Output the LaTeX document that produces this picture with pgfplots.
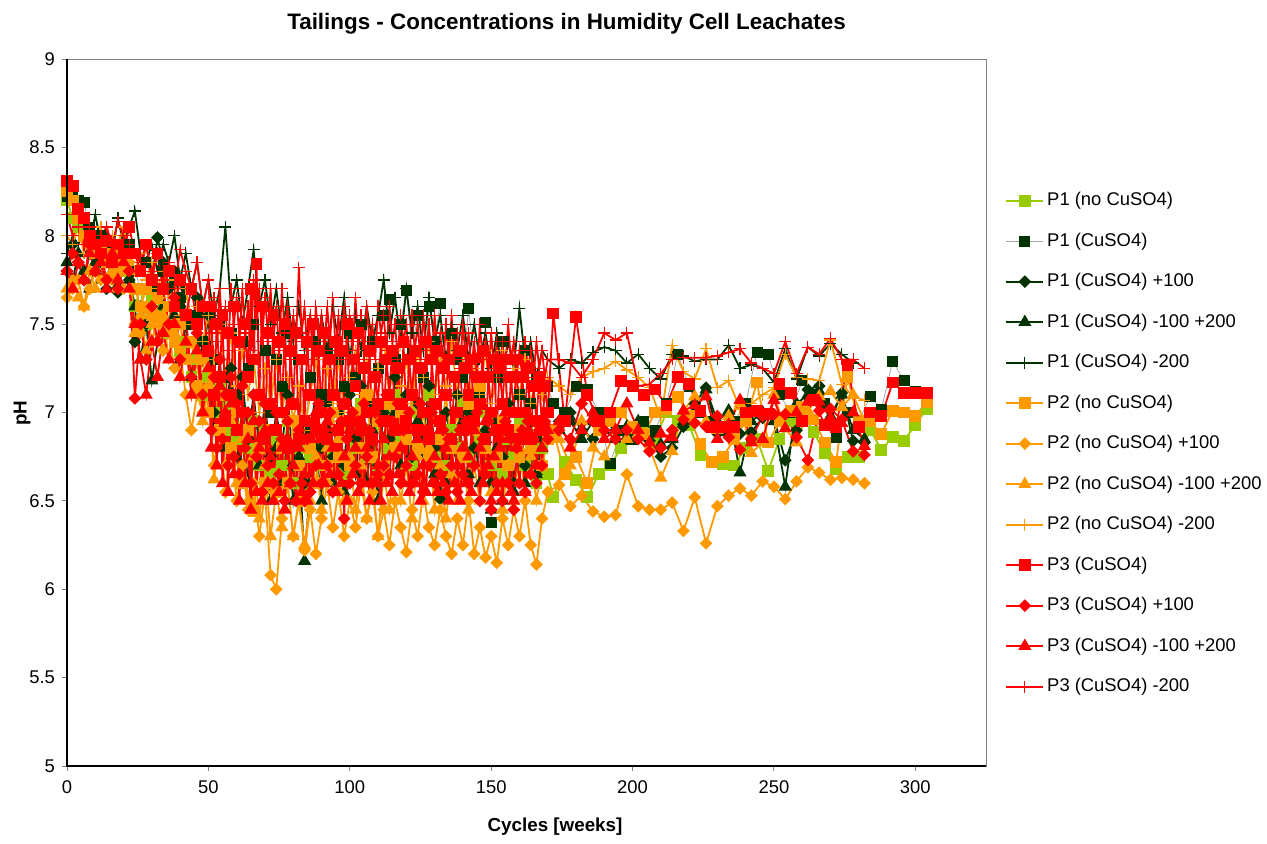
\documentclass[border=0pt]{standalone}
\usepackage{fontspec}
\setmainfont{Liberation Sans}
\usepackage{pgfplots}
\pgfplotsset{compat=1.18}
\definecolor{lgreen}{RGB}{153,204,0}
\definecolor{dgreen}{RGB}{0,51,0}
\definecolor{orng}{RGB}{255,153,0}
\definecolor{rd}{RGB}{255,0,0}
\pgfplotsset{
 sq/.style={color=#1, line width=0.9pt, mark=square*, mark size=2.5pt, mark options={solid, fill=#1, draw=#1}},
 dm/.style={color=#1, line width=0.9pt, mark=square*, mark size=1.8pt, mark options={solid, rotate=45, fill=#1, draw=#1}},
 tr/.style={color=#1, line width=0.9pt, mark=triangle*, mark size=2.9pt, mark options={solid, fill=#1, draw=#1}},
 pl/.style={color=#1, line width=0.9pt, mark=+, mark size=3pt, mark options={solid, line width=0.6pt, draw=#1}},
}
\begin{document}
\begin{tikzpicture}
\begin{axis}[
 scale only axis, width=459.5pt, height=353.5pt,
 xmin=0, xmax=325, ymin=5, ymax=9,
 xtick={0,50,...,300}, ytick={5,5.5,...,9},
 tick align=outside, tick pos=left,
 major tick length=2.5pt,
 every tick/.style={gray, line width=0.5pt},
 axis line style={gray, line width=0.5pt},
 tick label style={font=\fontsize{9.2}{11}\selectfont},
 xticklabel style={yshift=-1.5pt},
 /pgf/number format/assume math mode=true,
 legend style={draw=none, fill=none, at={(1.0207,0.813)}, anchor=north west, inner sep=0pt, row sep=11.25pt,
   nodes={inner sep=0pt, text height=7pt, text depth=2pt, font=\fontsize{9.2}{11}\selectfont, anchor=west},
   /tikz/every odd column/.append style={column sep=1.5pt}},
 legend cell align=left,
 legend image code/.code={\draw[mark repeat=2,mark phase=2] plot coordinates {(0cm,0cm) (0.325cm,0cm) (0.65cm,0cm)};},
]
% P1 (no CuSO4)
\addplot[sq=lgreen] coordinates {(0,8.2)(2,8.1)(4,8.05)(6,8.0)(8,7.95)(10,7.9)(12,7.95)(14,7.85)(16,7.9)(18,7.85)(20,7.9)(22,7.8)(24,7.6)(26,7.7)(28,7.5)(30,7.65)(32,7.55)(34,7.6)(36,7.45)(38,7.5)(40,7.35)(42,7.4)(44,7.2)(46,7.3)(48,7.1)(50,7.2)(52,7.0)(54,7.15)(56,6.9)(58,7.05)(60,6.85)(62,7.0)(64,6.8)(66,6.95)(68,6.7)(70,6.9)(72,6.65)(74,6.85)(76,6.7)(78,6.95)(80,6.6)(82,6.8)(84,6.55)(86,6.75)(88,6.9)(90,6.7)(92,7.0)(94,6.75)(96,6.9)(98,6.65)(100,6.95)(102,6.8)(104,7.05)(106,6.75)(108,6.9)(110,6.7)(112,7.0)(114,6.8)(116,7.1)(118,6.85)(120,6.95)(122,6.7)(124,7.0)(126,6.85)(128,7.1)(130,6.75)(132,6.95)(134,6.7)(136,6.9)(138,6.8)(140,7.05)(142,6.75)(144,6.95)(146,6.85)(148,7.0)(150,6.7)(152,6.9)(154,6.65)(156,6.85)(158,6.75)(160,6.95)(162,6.7)(164,6.85)(166,6.6)(168,6.8)(170,6.65)
(172,6.52)(176,6.72)(180,6.62)(184,6.52)(188,6.65)(192,6.70)(196,6.80)(200,6.85)(204,6.90)(208,6.85)(212,7.00)(216,6.95)(220,6.93)(224,6.76)(228,6.72)(232,6.71)(236,6.70)(240,6.80)(244,6.85)(248,6.67)(252,6.85)(256,6.95)(260,7.0)(264,6.89)(268,6.77)(272,6.68)(276,6.75)(280,6.75)(284,6.90)(288,6.79)(292,6.86)(296,6.84)(300,6.93)(304,7.02)};
\addlegendentry{P1 (no CuSO4)}
% P1 (CuSO4)
\addplot[color=gray!70, line width=0.4pt, mark=square*, mark size=2.5pt, mark options={solid, fill=dgreen, draw=dgreen}] coordinates {(0,8.22)(2,8.25)(4,8.2)(6,8.19)(8,8.05)(10,7.95)(12,8.0)(14,7.9)(16,7.95)(18,7.85)(20,7.9)(22,7.95)(24,7.8)(26,7.7)(28,7.85)(30,7.75)(32,7.7)(34,7.8)(36,7.6)(38,7.75)(40,7.65)(42,7.5)(44,7.7)(46,7.55)(48,7.4)(50,7.6)(52,7.3)(54,7.5)(56,7.2)(58,7.45)(60,7.1)(62,7.4)(64,7.25)(66,7.5)(68,7.1)(70,7.35)(72,7.0)(74,7.3)(76,7.15)(78,7.45)(80,7.05)(82,7.3)(84,6.9)(86,7.2)(88,7.4)(90,7.1)(92,7.35)(94,7.0)(96,7.3)(98,7.15)(100,7.45)(102,7.2)(104,7.5)(106,7.1)(108,7.4)(110,7.25)(112,7.55)(114,7.64)(116,7.3)(118,7.5)(120,7.69)(122,7.35)(124,7.55)(126,7.2)(128,7.6)(130,7.4)(132,7.62)(134,7.1)(136,7.45)(138,7.3)(140,7.2)(142,7.59)(144,7.3)(146,7.1)(148,7.51)(150,6.38)(152,7.2)(154,7.4)(156,7.0)(158,7.3)(160,7.1)(162,7.35)(164,7.05)(166,7.2)(168,6.95)(170,7.15)
(172,7.05)(176,7.0)(180,7.15)(184,7.13)(188,7.0)(192,6.71)(196,6.9)(200,6.85)(204,6.95)(208,6.9)(212,7.05)(216,7.33)(220,7.15)(224,7.0)(228,6.95)(232,6.9)(236,6.95)(240,7.05)(244,7.34)(248,7.33)(252,7.1)(256,7.0)(260,7.18)(264,7.1)(268,7.05)(272,6.86)(276,7.0)(280,6.95)(284,7.09)(288,7.02)(292,7.29)(296,7.18)(300,7.12)(304,7.11)};
\addlegendentry{P1 (CuSO4)}
% P1 (CuSO4) +100
\addplot[dm=dgreen] coordinates {(0,7.8)(2,7.95)(4,7.85)(6,7.75)(8,7.9)(10,7.8)(12,7.85)(14,7.7)(16,7.9)(18,7.68)(20,7.85)(22,7.75)(24,7.4)(26,7.6)(28,7.5)(30,7.75)(32,7.99)(34,7.85)(36,7.7)(38,7.8)(40,7.6)(42,7.7)(44,7.5)(46,7.65)(48,7.3)(50,7.55)(52,7.0)(54,7.3)(56,6.95)(58,7.25)(60,6.9)(62,7.2)(64,6.85)(66,7.1)(68,6.8)(70,7.05)(72,6.75)(74,7.0)(76,6.8)(78,7.1)(80,6.7)(82,6.95)(84,6.6)(86,6.9)(88,7.1)(90,6.8)(92,7.05)(94,6.75)(96,7.0)(98,6.7)(100,7.1)(102,6.85)(104,7.15)(106,6.8)(108,7.05)(110,6.7)(112,7.0)(114,6.85)(116,7.2)(118,6.9)(120,7.1)(122,6.75)(124,7.05)(126,6.85)(128,7.15)(130,6.8)(132,6.51)(134,7.0)(136,6.85)(138,7.1)(140,6.75)(142,7.0)(144,6.8)(146,7.05)(148,6.9)(150,6.6)(152,6.95)(154,6.75)(156,7.05)(158,6.6)(160,6.9)(162,6.7)(164,6.95)(166,6.65)(168,6.85)(170,6.9)
(174,6.95)(178,7.0)(182,6.9)(186,6.85)(190,6.95)(194,6.9)(198,6.85)(202,6.87)(206,6.84)(210,6.75)(214,6.8)(218,6.92)(222,7.05)(226,7.14)(230,6.88)(234,6.93)(238,6.88)(242,6.89)(246,6.97)(250,6.97)(254,6.73)(258,6.9)(262,7.13)(266,7.15)(270,6.96)(274,7.11)(278,6.84)(282,6.83)};
\addlegendentry{P1 (CuSO4) +100}
% P1 (CuSO4) -100 +200
\addplot[tr=dgreen] coordinates {(0,7.85)(2,7.75)(4,7.9)(6,7.8)(8,7.7)(10,7.85)(12,7.75)(14,7.9)(16,7.8)(18,7.72)(20,7.85)(22,7.75)(24,7.6)(26,7.3)(28,7.5)(30,7.18)(32,7.4)(34,7.6)(36,7.45)(38,7.55)(40,7.3)(42,7.5)(44,7.2)(46,7.4)(48,7.0)(50,7.3)(52,6.9)(54,7.15)(56,6.8)(58,7.1)(60,6.75)(62,7.0)(64,6.6)(66,6.95)(68,6.7)(70,6.9)(72,6.5)(74,6.8)(76,6.6)(78,6.85)(80,6.5)(82,6.75)(84,6.16)(86,6.6)(88,6.8)(90,6.5)(92,6.9)(94,6.6)(96,6.85)(98,6.55)(100,6.9)(102,6.65)(104,6.95)(106,6.6)(108,6.9)(110,6.5)(112,6.85)(114,6.65)(116,7.0)(118,6.7)(120,6.9)(122,6.6)(124,6.95)(126,6.75)(128,7.0)(130,6.65)(132,6.9)(134,6.6)(136,6.85)(138,6.7)(140,6.95)(142,6.65)(144,6.9)(146,6.6)(148,6.85)(150,6.45)(152,6.8)(154,6.5)(156,6.85)(158,6.55)(160,6.8)(162,6.6)(164,6.85)(166,6.65)(168,6.8)(170,6.9)
(174,6.9)(178,6.95)(182,6.85)(186,6.95)(190,6.9)(194,6.85)(198,6.92)(202,6.95)(206,6.88)(210,6.82)(214,6.85)(218,6.95)(222,7.0)(226,7.13)(230,6.95)(234,7.01)(238,6.66)(242,6.95)(246,7.0)(250,6.95)(254,6.58)(258,7.05)(262,7.1)(266,7.12)(270,6.98)(274,7.1)(278,6.9)(282,6.85)};
\addlegendentry{P1 (CuSO4) -100 +200}
% P1 (CuSO4) -200
\addplot[pl=dgreen] coordinates {(0,7.9)(2,8.0)(4,7.95)(6,8.05)(8,7.95)(10,8.12)(12,7.95)(14,8.05)(16,7.9)(18,8.1)(20,7.95)(22,8.05)(24,8.14)(26,7.9)(28,7.85)(30,7.95)(32,7.8)(34,7.95)(36,7.85)(38,8.0)(40,7.75)(42,7.9)(44,7.7)(46,7.85)(48,7.6)(50,7.75)(52,7.55)(54,7.7)(56,8.05)(58,7.6)(60,7.75)(62,7.5)(64,7.7)(66,7.92)(68,7.6)(70,7.75)(72,7.5)(74,7.7)(76,7.45)(78,7.65)(80,7.4)(82,7.6)(84,7.35)(86,7.55)(88,7.3)(90,7.55)(92,7.35)(94,7.6)(96,7.4)(98,7.65)(100,7.3)(102,7.55)(104,7.35)(106,7.6)(108,7.4)(110,7.55)(112,7.75)(114,7.45)(116,7.65)(118,7.4)(120,7.7)(122,7.45)(124,7.6)(126,7.35)(128,7.65)(130,7.4)(132,7.55)(134,7.3)(136,7.5)(138,7.35)(140,7.55)(142,7.3)(144,7.5)(146,7.3)(148,7.45)(150,7.25)(152,7.45)(154,7.2)(156,7.4)(158,7.25)(160,7.59)(162,7.3)(164,7.4)(166,7.2)(168,7.35)(170,7.3)
(174,7.25)(178,7.30)(182,7.28)(186,7.34)(190,7.37)(194,7.35)(198,7.28)(202,7.33)(206,7.25)(210,7.19)(214,7.33)(218,7.32)(222,7.29)(226,7.30)(230,7.30)(234,7.38)(238,7.25)(242,7.27)(246,7.25)(250,7.17)(254,7.36)(258,7.19)(262,7.37)(266,7.32)(270,7.39)(274,7.33)(278,7.28)};
\addlegendentry{P1 (CuSO4) -200}
% P2 (no CuSO4)
\addplot[sq=orng] coordinates {(0,8.25)(2,8.2)(4,8.1)(6,8.0)(8,7.95)(10,7.9)(12,7.95)(14,7.85)(16,7.9)(18,7.8)(20,7.85)(22,7.9)(24,7.7)(26,7.6)(28,7.7)(30,7.55)(32,7.65)(34,7.5)(36,7.6)(38,7.4)(40,7.5)(42,7.3)(44,7.4)(46,7.15)(48,7.3)(50,7.0)(52,7.2)(54,6.9)(56,7.1)(58,6.8)(60,7.0)(62,6.6)(64,6.9)(66,6.44)(68,6.8)(70,6.6)(72,6.9)(74,6.55)(76,6.8)(78,6.6)(80,6.95)(82,6.7)(84,6.5)(86,6.8)(88,6.6)(90,6.9)(92,6.7)(94,7.0)(96,6.75)(98,6.95)(100,6.7)(102,7.0)(104,6.8)(106,7.1)(108,6.75)(110,6.95)(112,6.7)(114,7.05)(116,6.8)(118,7.0)(120,6.85)(122,7.1)(124,6.8)(126,7.0)(128,6.75)(130,7.05)(132,6.85)(134,7.1)(136,6.8)(138,7.0)(140,6.75)(142,7.05)(144,6.9)(146,7.15)(148,6.8)(150,7.0)(152,6.75)(154,6.95)(156,6.7)(158,6.9)(160,6.75)(162,7.0)(164,6.8)(166,6.95)(168,6.7)(170,6.85)
(172,6.9)(176,6.65)(180,6.75)(184,6.6)(188,6.9)(192,6.95)(196,7.0)(200,6.92)(204,6.88)(208,7.0)(212,7.02)(216,7.09)(220,6.98)(224,6.82)(228,6.72)(232,6.75)(236,6.85)(240,6.95)(244,7.17)(248,6.83)(252,6.95)(256,7.01)(260,7.03)(264,6.96)(268,6.83)(272,6.72)(276,7.2)(280,6.95)(284,6.95)(288,6.88)(292,7.01)(296,7.0)(300,6.98)(304,7.06)};
\addlegendentry{P2 (no CuSO4)}
% P2 (no CuSO4) +100
\addplot[dm=orng] coordinates {(0,7.65)(2,7.7)(4,7.75)(6,7.6)(8,7.7)(10,7.8)(12,7.75)(14,7.85)(16,7.75)(18,7.8)(20,7.7)(22,7.85)(24,7.5)(26,7.45)(28,7.6)(30,7.4)(32,7.55)(34,7.35)(36,7.45)(38,7.25)(40,7.35)(42,7.1)(44,6.9)(46,7.1)(48,7.0)(50,7.15)(52,6.7)(54,6.9)(56,6.55)(58,6.8)(60,6.5)(62,6.7)(64,6.45)(66,6.6)(68,6.3)(70,6.55)(72,6.08)(74,6.0)(76,6.4)(78,6.6)(80,6.3)(82,6.5)(84,6.22)(86,6.45)(88,6.2)(90,6.4)(92,6.6)(94,6.35)(96,6.55)(98,6.3)(100,6.5)(102,6.35)(104,6.6)(106,6.4)(108,6.55)(110,6.3)(112,6.45)(114,6.25)(116,6.5)(118,6.35)(120,6.21)(122,6.45)(124,6.3)(126,6.55)(128,6.35)(130,6.25)(132,6.45)(134,6.3)(136,6.2)(138,6.4)(140,6.25)(142,6.5)(144,6.2)(146,6.35)(148,6.18)(150,6.3)(152,6.15)(154,6.4)(156,6.25)(158,6.45)(160,6.3)(162,6.5)(164,6.25)(166,6.14)(168,6.4)(170,6.55)
(174,6.59)(178,6.47)(182,6.53)(186,6.44)(190,6.41)(194,6.42)(198,6.65)(202,6.47)(206,6.45)(210,6.45)(214,6.49)(218,6.33)(222,6.52)(226,6.26)(230,6.47)(234,6.53)(238,6.57)(242,6.53)(246,6.61)(250,6.58)(254,6.51)(258,6.61)(262,6.69)(266,6.66)(270,6.62)(274,6.63)(278,6.62)(282,6.60)};
\addlegendentry{P2 (no CuSO4) +100}
% P2 (no CuSO4) -100 +200
\addplot[tr=orng] coordinates {(0,7.7)(2,7.75)(4,7.65)(6,7.6)(8,7.8)(10,7.7)(12,7.85)(14,7.75)(16,7.8)(18,7.7)(20,7.85)(22,7.8)(24,7.45)(26,7.55)(28,7.35)(30,7.5)(32,7.4)(34,7.55)(36,7.3)(38,7.45)(40,7.2)(42,7.4)(44,7.1)(46,7.3)(48,6.95)(50,7.15)(52,6.62)(54,6.9)(56,6.7)(58,6.95)(60,6.6)(62,6.85)(64,6.5)(66,6.75)(68,6.4)(70,6.7)(72,6.3)(74,6.55)(76,6.35)(78,6.6)(80,6.3)(82,6.5)(84,6.25)(86,6.5)(88,6.75)(90,6.45)(92,6.8)(94,6.55)(96,6.85)(98,6.5)(100,6.75)(102,6.45)(104,6.7)(106,6.4)(108,6.6)(110,6.3)(112,6.65)(114,6.45)(116,6.8)(118,6.5)(120,6.7)(122,6.4)(124,6.75)(126,6.5)(128,6.8)(130,6.45)(132,6.7)(134,6.4)(136,6.65)(138,6.5)(140,6.8)(142,6.45)(144,6.7)(146,6.5)(148,6.8)(150,6.55)(152,6.75)(154,6.45)(156,6.7)(158,6.5)(160,6.8)(162,6.55)(164,6.75)(166,6.5)(168,6.7)(170,6.85)
(174,6.85)(178,6.7)(182,6.95)(186,6.8)(190,6.75)(194,6.9)(198,6.85)(202,6.88)(206,6.8)(210,6.63)(214,6.78)(218,7.01)(222,7.09)(226,6.95)(230,6.9)(234,6.98)(238,7.05)(242,6.77)(246,6.83)(250,7.1)(254,6.91)(258,6.83)(262,7.01)(266,7.09)(270,7.12)(274,7.03)(278,7.1)(282,6.95)};
\addlegendentry{P2 (no CuSO4) -100 +200}
% P2 (no CuSO4) -200
\addplot[pl=orng] coordinates {(0,8.0)(2,7.95)(4,8.05)(6,7.9)(8,8.0)(10,7.95)(12,8.05)(14,7.9)(16,8.0)(18,7.95)(20,8.05)(22,7.9)(24,7.8)(26,7.9)(28,7.75)(30,7.85)(32,7.7)(34,7.8)(36,7.65)(38,7.75)(40,7.55)(42,7.7)(44,7.5)(46,7.6)(48,7.4)(50,7.55)(52,7.3)(54,7.5)(56,7.2)(58,7.45)(60,7.15)(62,7.35)(64,7.1)(66,7.3)(68,7.0)(70,7.25)(72,7.05)(74,7.3)(76,7.0)(78,7.2)(80,6.95)(82,7.15)(84,6.9)(86,7.1)(88,7.3)(90,7.0)(92,7.25)(94,7.05)(96,7.3)(98,7.0)(100,7.2)(102,7.35)(104,7.1)(106,7.3)(108,7.05)(110,7.25)(112,7.4)(114,7.1)(116,7.35)(118,7.15)(120,7.3)(122,7.05)(124,7.35)(126,7.2)(128,7.4)(130,7.1)(132,7.3)(134,7.15)(136,7.4)(138,7.1)(140,7.3)(142,7.05)(144,7.25)(146,7.1)(148,7.35)(150,7.05)(152,7.2)(154,7.35)(156,7.0)(158,7.25)(160,7.1)(162,7.3)(164,7.05)(166,7.2)(168,7.1)(170,7.2)
(174,7.15)(178,7.1)(182,7.2)(186,7.23)(190,7.25)(194,7.29)(198,7.24)(202,7.2)(206,7.14)(210,6.97)(214,7.38)(218,7.23)(222,7.19)(226,7.36)(230,7.14)(234,7.18)(238,7.02)(242,7.05)(246,7.1)(250,7.14)(254,7.33)(258,7.2)(262,7.19)(266,7.18)(270,7.41)(274,7.16)(278,7.09)(282,7.07)};
\addlegendentry{P2 (no CuSO4) -200}
% P3 (CuSO4)
\addplot[sq=rd] coordinates {(0,8.31)(2,8.28)(4,8.15)(6,8.1)(8,8.0)(10,7.95)(12,7.9)(14,7.97)(16,7.85)(18,7.95)(20,7.9)(22,8.05)(24,7.9)(26,7.8)(28,7.95)(30,7.75)(32,7.9)(34,7.7)(36,7.8)(38,7.6)(40,7.75)(42,7.55)(44,7.7)(46,7.5)(48,7.6)
(50,7.35)(51,7.6)(52,7.1)(53,7.5)(54,7.2)(55,7.55)(56,6.95)(57,7.45)(58,7.1)(59,7.6)(60,6.9)(61,7.4)(62,7.0)(63,7.5)(64,7.2)(65,7.7)(66,7.3)(67,7.84)(68,7.1)(69,7.6)(70,6.85)(71,7.45)(72,7.05)(73,7.55)(74,6.9)(75,7.4)(76,7.0)(77,7.5)(78,6.8)(79,7.35)(80,7.05)(81,7.45)(82,6.85)(83,7.3)(84,6.95)(85,7.4)(86,7.1)(87,7.5)(88,6.9)(89,7.35)(90,7.0)(91,7.45)(92,6.85)(93,7.3)(94,7.1)(95,7.4)(96,6.9)(97,7.35)(98,7.05)(99,7.5)(100,6.95)(101,7.3)(102,7.15)(103,7.45)(104,6.9)(105,7.25)(106,7.0)(107,7.35)(108,6.85)(109,7.2)(110,7.05)(111,7.4)(112,6.95)(113,7.3)(114,7.1)(115,7.35)(116,6.9)(117,7.25)(118,7.05)(119,7.4)(120,6.95)(121,7.3)(122,7.1)(123,7.35)(124,6.9)(125,7.25)(126,7.0)(127,7.4)(128,6.85)(129,7.3)(130,7.05)(131,7.35)(132,6.95)(133,7.25)(134,7.1)(135,7.3)(136,6.85)(137,7.2)(138,7.0)(139,7.35)(140,6.9)(141,7.25)(142,7.1)(143,7.3)(144,6.95)(145,7.2)(146,7.05)(147,7.35)(148,6.85)(149,7.2)(150,7.0)(151,7.3)(152,6.9)(153,7.25)(154,7.05)(155,7.3)(156,6.9)(157,7.2)(158,7.0)(159,7.3)(160,6.85)(161,7.2)(162,7.0)(163,7.25)(164,6.85)(165,7.15)(166,6.95)(167,7.2)(168,6.9)(169,7.15)(170,7.0)
(172,7.56)(176,6.95)(180,7.54)(184,7.1)(188,6.95)(192,7.0)(196,7.18)(200,7.15)(204,7.10)(208,7.13)(212,7.04)(216,7.20)(220,7.16)(224,7.01)(228,6.92)(232,6.92)(236,6.92)(240,7.00)(244,7.01)(248,6.99)(252,7.16)(256,7.11)(260,6.95)(264,7.07)(268,6.93)(272,6.92)(276,7.27)(280,6.92)(284,7.00)(288,6.98)(292,7.17)(296,7.11)(300,7.11)(304,7.11)};
\addlegendentry{P3 (CuSO4)}
% P3 (CuSO4) +100
\addplot[dm=rd] coordinates {(0,7.8)(2,7.9)(4,7.85)(6,7.75)(8,7.95)(10,7.8)(12,7.9)(14,7.75)(16,7.85)(18,7.7)(20,7.9)(22,7.8)(24,7.08)(26,7.5)(28,7.3)(30,7.6)(32,7.4)(34,7.7)(36,7.5)(38,7.65)(40,7.3)(42,7.55)(44,7.2)(46,7.45)(48,7.1)
(50,7.35)(51,6.9)(52,7.2)(53,6.8)(54,7.3)(55,6.85)(56,7.1)(57,6.7)(58,7.2)(59,6.75)(60,7.05)(61,6.65)(62,7.15)(63,6.8)(64,7.0)(65,6.6)(66,7.1)(67,6.75)(68,6.95)(69,6.55)(70,7.05)(71,6.7)(72,6.9)(73,6.6)(74,7.0)(75,6.65)(76,6.85)(77,6.5)(78,6.95)(79,6.6)(80,6.8)(81,6.5)(82,6.9)(83,6.6)(84,6.5)(85,6.85)(86,6.55)(87,6.95)(88,6.7)(89,7.05)(90,6.6)(91,6.9)(92,6.7)(93,7.0)(94,6.55)(95,6.9)(96,6.65)(97,6.95)(98,6.4)(99,6.85)(100,6.6)(101,7.0)(102,6.7)(103,6.95)(104,6.6)(105,7.05)(106,6.75)(107,6.9)(108,6.6)(109,7.0)(110,6.65)(111,6.95)(112,6.7)(113,7.1)(114,6.65)(115,6.95)(116,6.75)(117,7.05)(118,6.6)(119,6.9)(120,6.7)(121,7.0)(122,6.6)(123,6.9)(124,6.65)(125,7.05)(126,6.55)(127,6.9)(128,6.7)(129,7.0)(130,6.6)(131,6.95)(132,6.65)(133,6.9)(134,6.55)(135,6.85)(136,6.7)(137,7.0)(138,6.55)(139,6.9)(140,6.65)(141,6.95)(142,6.6)(143,6.9)(144,6.7)(145,7.0)(146,6.5)(147,6.85)(148,6.65)(149,6.95)(150,6.45)(151,6.9)(152,6.6)(153,6.85)(154,6.5)(155,6.95)(156,6.6)(157,6.85)(158,6.45)(159,6.8)(160,6.6)(161,6.9)(162,6.55)(163,6.95)(164,6.65)(165,6.85)(166,6.6)(167,6.9)(168,6.7)(169,6.95)(170,6.85)
(174,6.9)(178,6.85)(182,7.05)(186,6.95)(190,6.9)(194,6.85)(198,6.9)(202,6.85)(206,6.78)(210,6.8)(214,6.9)(218,6.96)(222,6.94)(226,6.92)(230,6.98)(234,6.86)(238,6.79)(242,6.85)(246,6.98)(250,6.99)(254,6.99)(258,6.86)(262,6.73)(266,7.01)(270,7.02)(274,6.96)(278,6.78)(282,6.76)};
\addlegendentry{P3 (CuSO4) +100}
% P3 (CuSO4) -100 +200
\addplot[tr=rd] coordinates {(0,7.8)(2,7.7)(4,7.85)(6,7.75)(8,7.9)(10,7.8)(12,7.85)(14,7.7)(16,7.9)(18,7.75)(20,7.85)(22,7.7)(24,7.5)(26,7.3)(28,7.1)(30,7.4)(32,7.2)(34,7.45)(36,7.3)(38,7.5)(40,7.2)(42,7.4)(44,7.1)(46,7.35)(48,7.0)
(50,7.25)(51,6.8)(52,7.1)(53,6.7)(54,7.15)(55,6.6)(56,7.0)(57,6.55)(58,7.05)(59,6.65)(60,6.9)(61,6.5)(62,7.0)(63,6.6)(64,6.85)(65,6.45)(66,6.95)(67,6.55)(68,6.8)(69,6.5)(70,6.9)(71,6.6)(72,6.75)(73,6.5)(74,6.9)(75,6.55)(76,6.8)(77,6.45)(78,6.85)(79,6.6)(80,6.7)(81,6.5)(82,6.8)(83,6.55)(84,6.65)(85,6.5)(86,6.85)(87,6.6)(88,7.0)(89,6.7)(90,6.85)(91,6.6)(92,6.95)(93,6.65)(94,6.8)(95,6.55)(96,6.9)(97,6.6)(98,6.75)(99,6.5)(100,6.9)(101,6.65)(102,6.8)(103,6.55)(104,6.95)(105,6.6)(106,6.8)(107,6.5)(108,6.85)(109,6.6)(110,6.7)(111,6.5)(112,6.85)(113,6.6)(114,6.75)(115,6.55)(116,6.9)(117,6.65)(118,6.8)(119,6.6)(120,6.9)(121,6.55)(122,6.75)(123,6.6)(124,6.85)(125,6.5)(126,6.7)(127,6.55)(128,6.9)(129,6.6)(130,6.75)(131,6.55)(132,6.9)(133,6.6)(134,6.8)(135,6.5)(136,6.85)(137,6.6)(138,6.7)(139,6.5)(140,6.8)(141,6.6)(142,6.75)(143,6.55)(144,6.9)(145,7.3)(146,6.8)(147,6.6)(148,6.95)(149,6.7)(150,6.5)(151,6.75)(152,6.55)(153,6.8)(154,6.6)(155,7.0)(156,6.85)(157,6.55)(158,6.5)(159,6.8)(160,6.6)(161,6.85)(162,6.55)(163,6.9)(164,6.65)(165,6.85)(166,6.7)(167,6.9)(168,6.8)(169,6.95)(170,6.9)
(174,6.95)(178,6.8)(182,6.9)(186,7.0)(190,6.85)(194,6.9)(198,7.05)(202,6.9)(206,6.83)(210,6.88)(214,6.86)(218,7.01)(222,7.04)(226,7.09)(230,6.85)(234,6.93)(238,7.07)(242,6.83)(246,6.85)(250,7.07)(254,6.91)(258,7.00)(262,7.06)(266,7.06)(270,6.97)(274,6.94)(278,7.00)(282,6.81)};
\addlegendentry{P3 (CuSO4) -100 +200}
% P3 (CuSO4) -200
\addplot[pl=rd] coordinates {(0,8.12)(2,8.0)(4,8.05)(6,7.95)(8,8.05)(10,7.95)(12,8.0)(14,8.05)(16,7.95)(18,8.08)(20,8.0)(22,7.95)(24,7.9)(26,7.85)(28,7.95)(30,7.8)(32,7.9)(34,7.75)(36,7.85)(38,7.7)(40,7.92)(42,7.8)(44,7.7)(46,7.85)(48,7.6)
(50,7.75)(51,7.45)(52,7.65)(53,7.4)(54,7.7)(55,7.45)(56,7.6)(57,7.35)(58,7.7)(59,7.5)(60,7.65)(61,7.4)(62,7.7)(63,7.45)(64,7.6)(65,7.35)(66,7.75)(67,7.5)(68,7.7)(69,7.4)(70,7.65)(71,7.45)(72,7.7)(73,7.4)(74,7.6)(75,7.35)(76,7.7)(77,7.45)(78,7.6)(79,7.3)(80,7.55)(81,7.4)(82,7.82)(83,7.45)(84,7.6)(85,7.35)(86,7.55)(87,7.3)(88,7.6)(89,7.4)(90,7.55)(91,7.35)(92,7.6)(93,7.4)(94,7.65)(95,7.35)(96,7.55)(97,7.3)(98,7.6)(99,7.4)(100,7.55)(101,7.35)(102,7.65)(103,7.4)(104,7.55)(105,7.3)(106,7.6)(107,7.4)(108,7.5)(109,7.3)(110,7.6)(111,7.45)(112,7.55)(113,7.35)(114,7.6)(115,7.4)(116,7.5)(117,7.3)(118,7.55)(119,7.4)(120,7.5)(121,7.3)(122,7.55)(123,7.35)(124,7.5)(125,7.3)(126,7.55)(127,7.35)(128,7.5)(129,7.3)(130,7.55)(131,7.35)(132,7.45)(133,7.25)(134,7.5)(135,7.3)(136,7.55)(137,7.3)(138,7.45)(139,7.25)(140,7.5)(141,7.3)(142,7.45)(143,7.25)(144,7.4)(145,7.2)(146,7.5)(147,7.3)(148,7.4)(149,7.2)(150,7.45)(151,7.25)(152,7.4)(153,7.2)(154,7.4)(155,7.25)(156,7.5)(157,7.3)(158,7.4)(159,7.2)(160,7.35)(161,7.2)(162,7.4)(163,7.25)(164,7.35)(165,7.2)(166,7.4)(167,7.25)(168,7.35)(169,7.2)(170,7.3)
(174,7.3)(178,7.28)(182,7.2)(186,7.3)(190,7.45)(194,7.41)(198,7.45)(202,7.15)(206,7.16)(210,7.22)(214,7.30)(218,7.31)(222,7.31)(226,7.31)(230,7.32)(234,7.34)(238,7.36)(242,7.28)(246,7.25)(250,7.22)(254,7.40)(258,7.22)(262,7.37)(266,7.33)(270,7.42)(274,7.30)(278,7.30)(282,7.25)};
\addlegendentry{P3 (CuSO4) -200}
\end{axis}
\draw[black, line width=0.6pt] (0,353.5pt) -- (0,0) -- (459.5pt,0);
\node[font=\fontsize{11.2}{13}\selectfont\bfseries, anchor=base] at (249.75pt,368.5pt) {Tailings - Concentrations in Humidity Cell Leachates};
\node[font=\fontsize{9.4}{11}\selectfont\bfseries, anchor=base] at (244pt,-32.5pt) {Cycles [weeks]};
\node[font=\fontsize{9.4}{11}\selectfont\bfseries, rotate=90] at (-22.5pt,176.5pt) {pH};
\pgfresetboundingbox
\path (-33.5pt,-38.5pt) rectangle (600pt,383pt);
\end{tikzpicture}
\end{document}
